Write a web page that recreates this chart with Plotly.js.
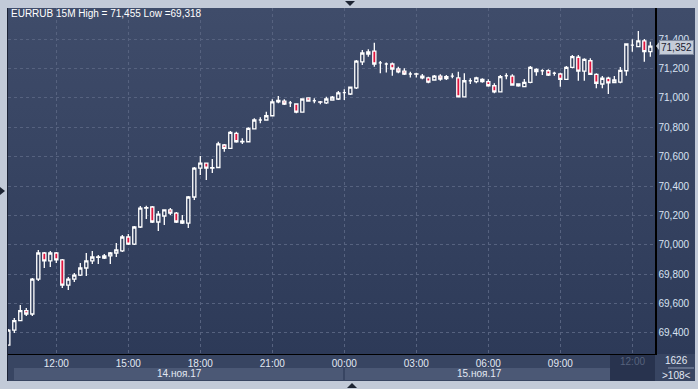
<!DOCTYPE html>
<html><head><meta charset="utf-8">
<script src="https://cdn.plot.ly/plotly-3.0.1.min.js"></script>
<style>
html,body{margin:0;padding:0;background:#c2cad8;}
#wrap{position:relative;width:698px;height:389px;overflow:hidden;background:#c2cad8;}
.bg{position:absolute;}
#chart{position:absolute;left:0;top:0;width:698px;height:389px;}
.tri{position:absolute;width:0;height:0;}
</style></head>
<body>
<div id="wrap">
  <div class="bg" style="left:8px;top:8px;width:687px;height:346px;background:linear-gradient(#3f4c6a,#2d3a58);"></div>
  <div class="bg" style="left:8px;top:354px;width:687px;height:27px;background:#384562;"></div>
  <div class="bg" style="left:14px;top:368px;width:329px;height:12px;background:#4b5875;"></div>
  <div class="bg" style="left:345px;top:368px;width:265px;height:12px;background:#4b5875;"></div>
  <div class="bg" style="left:610px;top:354px;width:45px;height:27px;background:#28334e;"></div>
  <div class="bg" style="left:7px;top:8px;width:1px;height:373px;background:#1c2336;"></div>
  <div class="tri" style="left:345px;top:1px;border-left:5px solid transparent;border-right:5px solid transparent;border-top:5px solid #1d2433;"></div>
  <div class="tri" style="left:347px;top:383px;border-left:5px solid transparent;border-right:5px solid transparent;border-bottom:5px solid #1d2433;"></div>
  <div class="tri" style="left:0px;top:187px;border-top:4px solid transparent;border-bottom:4px solid transparent;border-left:5px solid #1d2433;"></div>
  <div id="chart"></div>
</div>
<script>
const times = [
"2017-11-14 10:00","2017-11-14 10:15","2017-11-14 10:30","2017-11-14 10:45",
"2017-11-14 11:00","2017-11-14 11:15","2017-11-14 11:30","2017-11-14 11:45",
"2017-11-14 12:00","2017-11-14 12:15","2017-11-14 12:30","2017-11-14 12:45",
"2017-11-14 13:00","2017-11-14 13:15","2017-11-14 13:30","2017-11-14 13:45",
"2017-11-14 14:00","2017-11-14 14:15","2017-11-14 14:30","2017-11-14 14:45",
"2017-11-14 15:00","2017-11-14 15:15","2017-11-14 15:30","2017-11-14 15:45",
"2017-11-14 16:00","2017-11-14 16:15","2017-11-14 16:30","2017-11-14 16:45",
"2017-11-14 17:00","2017-11-14 17:15","2017-11-14 17:30","2017-11-14 17:45",
"2017-11-14 18:00","2017-11-14 18:15","2017-11-14 18:30","2017-11-14 18:45",
"2017-11-14 19:00","2017-11-14 19:15","2017-11-14 19:30","2017-11-14 19:45",
"2017-11-14 20:00","2017-11-14 20:15","2017-11-14 20:30","2017-11-14 20:45",
"2017-11-14 21:00","2017-11-14 21:15","2017-11-14 21:30","2017-11-14 21:45",
"2017-11-14 22:00","2017-11-14 22:15","2017-11-14 22:30","2017-11-14 22:45",
"2017-11-14 23:00","2017-11-14 23:15","2017-11-14 23:30","2017-11-14 23:45",
"2017-11-15 00:00","2017-11-15 00:15","2017-11-15 00:30","2017-11-15 00:45",
"2017-11-15 01:00","2017-11-15 01:15","2017-11-15 01:30","2017-11-15 01:45",
"2017-11-15 02:00","2017-11-15 02:15","2017-11-15 02:30","2017-11-15 02:45",
"2017-11-15 03:00","2017-11-15 03:15","2017-11-15 03:30","2017-11-15 03:45",
"2017-11-15 04:00","2017-11-15 04:15","2017-11-15 04:30","2017-11-15 04:45",
"2017-11-15 05:00","2017-11-15 05:15","2017-11-15 05:30","2017-11-15 05:45",
"2017-11-15 06:00","2017-11-15 06:15","2017-11-15 06:30","2017-11-15 06:45",
"2017-11-15 07:00","2017-11-15 07:15","2017-11-15 07:30","2017-11-15 07:45",
"2017-11-15 08:00","2017-11-15 08:15","2017-11-15 08:30","2017-11-15 08:45",
"2017-11-15 09:00","2017-11-15 09:15","2017-11-15 09:30","2017-11-15 09:45",
"2017-11-15 10:00","2017-11-15 10:15","2017-11-15 10:30","2017-11-15 10:45",
"2017-11-15 11:00","2017-11-15 11:15","2017-11-15 11:30","2017-11-15 11:45",
"2017-11-15 12:00","2017-11-15 12:15","2017-11-15 12:30","2017-11-15 12:45"
];
const openV = [
69.318,69.420,69.484,69.552,69.529,69.767,69.944,69.890,69.944,69.897,
69.726,69.767,69.794,69.842,69.890,69.917,69.910,69.924,69.944,69.958,
70.053,70.005,70.121,70.250,70.257,70.155,70.196,70.237,70.216,70.162,
70.148,70.325,70.522,70.556,70.522,70.526,70.679,70.656,70.758,70.701,
70.701,70.788,70.849,70.849,70.878,70.973,70.978,70.965,70.958,70.903,
70.999,70.980,70.973,70.965,70.985,70.992,71.035,71.026,71.067,71.244,
71.298,71.318,71.237,71.230,71.230,71.196,71.182,71.162,71.162,71.148,
71.135,71.121,71.148,71.130,71.148,71.135,71.007,71.116,71.110,71.126,
71.110,71.082,71.041,71.150,71.148,71.094,71.076,71.105,71.194,71.184,
71.184,71.167,71.162,71.126,71.207,71.276,71.182,71.252,71.160,71.094,
71.133,71.103,71.107,71.184,71.359,71.348,71.388,71.314
];
const highV = [
69.427,69.502,69.590,69.570,69.774,69.965,69.951,69.958,69.951,69.903,
69.781,69.808,69.876,69.944,69.958,69.931,69.937,69.951,70.012,70.067,
70.074,70.128,70.264,70.266,70.264,70.230,70.239,70.250,70.223,70.203,
70.332,70.529,70.604,70.560,70.584,70.701,70.686,70.774,70.769,70.724,
70.799,70.861,70.867,70.905,70.990,71.012,70.990,70.978,70.963,70.997,
71.003,70.997,70.978,71.007,71.012,71.046,71.058,71.076,71.257,71.325,
71.330,71.375,71.250,71.241,71.241,71.212,71.201,71.178,71.171,71.162,
71.144,71.155,71.160,71.155,71.167,71.178,71.167,71.133,71.144,71.133,
71.126,71.099,71.155,71.167,71.160,71.099,71.128,71.216,71.201,71.194,
71.194,71.178,71.171,71.216,71.291,71.291,71.269,71.269,71.167,71.148,
71.144,71.148,71.210,71.371,71.398,71.455,71.400,71.382
];
const lowV = [
69.318,69.400,69.482,69.516,69.516,69.754,69.842,69.849,69.876,69.706,
69.692,69.747,69.788,69.788,69.869,69.869,69.903,69.869,69.917,69.951,
69.999,69.999,70.114,70.175,70.148,70.094,70.135,70.203,70.148,70.141,
70.114,70.305,70.475,70.441,70.488,70.520,70.633,70.652,70.694,70.686,
70.697,70.786,70.827,70.844,70.873,70.963,70.951,70.937,70.895,70.899,
70.973,70.963,70.956,70.958,70.980,70.985,70.985,71.019,71.060,71.223,
71.280,71.212,71.167,71.173,71.150,71.167,71.155,71.139,71.139,71.126,
71.099,71.116,71.116,71.121,71.133,71.003,71.003,71.094,71.099,71.103,
71.076,71.031,71.037,71.126,71.082,71.076,71.073,71.099,71.150,71.155,
71.148,71.150,71.076,71.121,71.201,71.116,71.116,71.155,71.065,71.065,
71.026,71.099,71.099,71.150,71.314,71.344,71.246,71.280
];
const closeV = [
69.420,69.484,69.552,69.529,69.767,69.944,69.890,69.944,69.897,69.726,
69.767,69.794,69.842,69.890,69.917,69.915,69.924,69.944,69.965,70.053,
70.005,70.121,70.250,70.252,70.155,70.209,70.237,70.216,70.155,70.148,
70.325,70.522,70.556,70.522,70.524,70.686,70.656,70.765,70.701,70.703,
70.792,70.849,70.849,70.878,70.973,70.982,70.958,70.965,70.903,70.992,
70.978,70.980,70.970,70.992,71.005,71.033,71.035,71.073,71.250,71.305,
71.312,71.230,71.237,71.230,71.196,71.176,71.162,71.162,71.161,71.135,
71.107,71.148,71.128,71.144,71.148,71.007,71.116,71.116,71.135,71.110,
71.082,71.041,71.144,71.150,71.087,71.082,71.105,71.207,71.178,71.184,
71.155,71.167,71.126,71.207,71.280,71.182,71.262,71.160,71.099,71.133,
71.101,71.121,71.186,71.366,71.359,71.388,71.314,71.352
];
const xTickVals = ["2017-11-14 12:00","2017-11-14 15:00","2017-11-14 18:00","2017-11-14 21:00",
  "2017-11-15 00:00","2017-11-15 03:00","2017-11-15 06:00","2017-11-15 09:00","2017-11-15 12:00"];
const xTickText = ["12:00","15:00","18:00","21:00","00:00","03:00","06:00","09:00",""];
const yTickVals = [69.4,69.6,69.8,70.0,70.2,70.4,70.6,70.8,71.0,71.2,71.4];
const dateLabels = ["14.ноя.17","15.ноя.17"];
const titleText = "EURRUB 15M High = 71,455 Low =69,318";
const lastPrice = 71.352;

const font = "Liberation Sans, Arial, sans-serif";
const yMin = 69.257, yMax = 71.611;
const trace = {
  type: "candlestick",
  x: times, open: openV, high: highV, low: lowV, close: closeV,
  increasing: {line: {color: "#ffffff", width: 1.3}, fillcolor: "#34415f"},
  decreasing: {line: {color: "#ffffff", width: 1.3}, fillcolor: "#e0163f"},
  whiskerwidth: 0,
  hoverinfo: "none"
};
const tagY = (lastPrice - yMin) / (yMax - yMin);
const layout = {
  width: 698, height: 389,
  margin: {l: 8, r: 43, t: 8, b: 35, pad: 0},
  paper_bgcolor: "rgba(0,0,0,0)",
  plot_bgcolor: "rgba(0,0,0,0)",
  separators: ", ",
  showlegend: false,
  boxgap: 0.25,
  font: {family: font, size: 10, color: "#dfe6f2"},
  xaxis: {
    type: "date",
    range: ["2017-11-14 09:59:15", "2017-11-15 12:56:40"],
    rangeslider: {visible: false},
    tickmode: "array", tickvals: xTickVals, ticktext: xTickText,
    showgrid: true, gridcolor: "#56627f", griddash: "3px,3px", gridwidth: 1,
    showline: true, linecolor: "#000000", linewidth: 1,
    ticks: "", zeroline: false,
    tickfont: {family: font, size: 10, color: "#e2e8f3"}
  },
  yaxis: {
    side: "right",
    range: [yMin, yMax],
    tickmode: "array", tickvals: yTickVals, tickformat: ".3f",
    showgrid: true, gridcolor: "#56627f", griddash: "3px,3px", gridwidth: 1,
    showline: true, linecolor: "#000000", linewidth: 1.5,
    ticks: "", zeroline: false,
    tickfont: {family: font, size: 10, color: "#d8e2f2"}
  },
  shapes: [
    {type: "path", xref: "paper", yref: "paper", layer: "above",
     path: "M 1.0015 " + tagY + " L 1.0085 " + (tagY + 0.017) + " L 1.0085 " + (tagY - 0.017) + " Z",
     fillcolor: "#c5ccd8", line: {width: 0}},
    {type: "line", xref: "paper", yref: "paper", x0: 1.0201, x1: 1.0603, y0: -0.0405, y1: -0.0405,
     line: {color: "#8a96ad", width: 1}}
  ],
  annotations: [
    {text: titleText, xref: "paper", yref: "paper", x: 0.0015, y: 0.9827, xanchor: "left", yanchor: "middle",
     showarrow: false, font: {family: font, size: 10, color: "#ffffff"}},
    {text: dateLabels[0], xref: "paper", yref: "paper", x: 0.2643, y: -0.0578, xanchor: "center", yanchor: "middle",
     showarrow: false, font: {family: font, size: 10, color: "#e2e8f3"}},
    {text: dateLabels[1], xref: "paper", yref: "paper", x: 0.7295, y: -0.0578, xanchor: "center", yanchor: "middle",
     showarrow: false, font: {family: font, size: 10, color: "#e2e8f3"}},
    {text: "12:00", xref: "paper", yref: "paper", x: 0.9649, y: -0.0225, xanchor: "center", yanchor: "middle",
     showarrow: false, font: {family: font, size: 10, color: "#56627c"}},
    {text: "1626", xref: "paper", yref: "paper", x: 1.0325, y: -0.0202, xanchor: "center", yanchor: "middle",
     showarrow: false, font: {family: font, size: 10, color: "#e2e8f3"}},
    {text: ">108<", xref: "paper", yref: "paper", x: 1.0325, y: -0.0607, xanchor: "center", yanchor: "middle",
     showarrow: false, font: {family: font, size: 10, color: "#e2e8f3"}},
    {text: "71,352", xref: "paper", yref: "y", x: 1.0, y: lastPrice, xanchor: "left", yanchor: "middle",
     xshift: 4, yshift: -1, showarrow: false, bgcolor: "#c5ccd8", bordercolor: "#7f8aa0", borderwidth: 1, borderpad: 1,
     font: {family: font, size: 10, color: "#1a2030"}}
  ]
};
Plotly.newPlot("chart", [trace], layout, {staticPlot: true, displayModeBar: false});
</script>
</body></html>
